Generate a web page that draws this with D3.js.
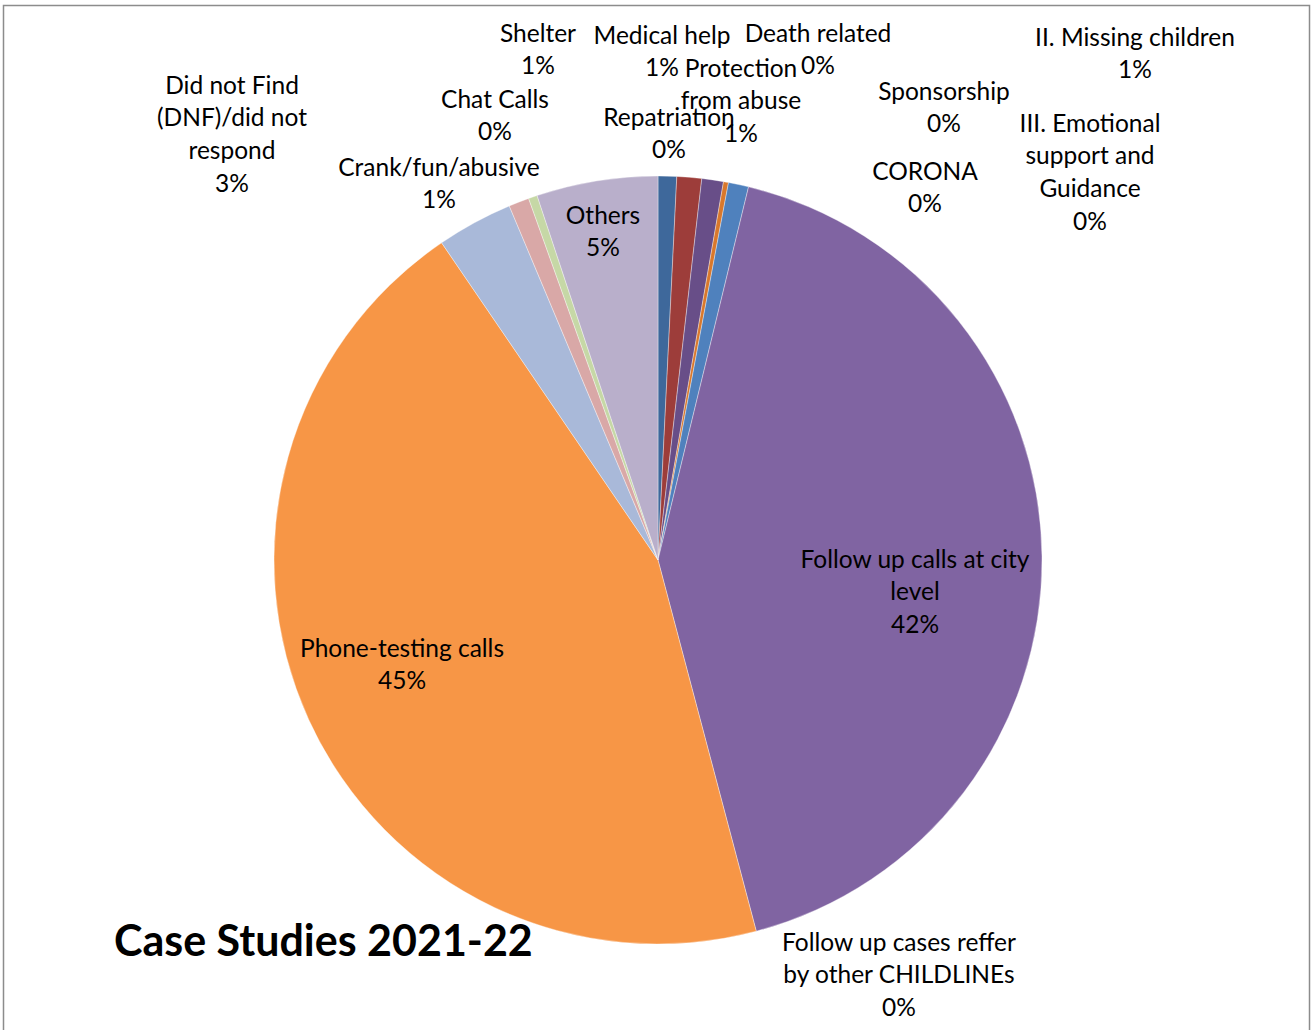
<!DOCTYPE html>
<html>
<head>
<meta charset="utf-8">
<script src="https://cdn.jsdelivr.net/npm/d3@7"></script>
<style>
  body { margin: 0; background: #fff; }
  text { font-family: Lato, "Open Sans", sans-serif; }
</style>
</head>
<body>
<svg width="1312" height="1030"></svg>
<script>
// slices in clockwise order starting at 12 o'clock (values are % of calls)
const categories = [
  "Shelter", "Medical help", "Protection from abuse", "Repatriation", "Death related",
  "Sponsorship", "CORONA", "II. Missing children", "III. Emotional support and Guidance",
  "Follow up calls at city level", "Follow up cases reffer by other CHILDLINEs",
  "Phone-testing calls", "Did not Find (DNF)/did not respond", "Crank/fun/abusive",
  "Chat Calls", "Others"
];
const values = [0.78, 1.04, 0.91, 0.21, 0, 0, 0, 0.85, 0, 42.1, 0, 44.6, 3.2, 0.86, 0.37, 5.1];
const colors = [
  "#3e689b", "#9d3d3a", "#684e88", "#d9782c", "#c0504d", "#9bbb59", "#4bacc6", "#4f81bd",
  "#f79646", "#8064a2", "#4bacc6", "#f79646", "#a9b9d9", "#d9a8a7", "#c6d8a6", "#b9afcb"
];
// how each label is broken into lines
const labelLines = [
  ["Shelter"], ["Medical help"], ["Protection", "from abuse"], ["Repatriation"], ["Death related"],
  ["Sponsorship"], ["CORONA"], ["II. Missing children"], ["III. Emotional", "support and", "Guidance"],
  ["Follow up calls at city", "level"], ["Follow up cases reffer", "by other CHILDLINEs"],
  ["Phone-testing calls"], ["Did not Find", "(DNF)/did not", "respond"], ["Crank/fun/abusive"],
  ["Chat Calls"], ["Others"]
];
const title = "Case Studies 2021-22";

// label placement (centre x, centre y of first line), excel placed these
const labelPos = {
  "Shelter": [538, 33], "Medical help": [662, 35], "Protection from abuse": [741, 68],
  "Repatriation": [669, 117], "Death related": [818, 33], "Sponsorship": [944, 91],
  "CORONA": [925, 171], "II. Missing children": [1135, 37],
  "III. Emotional support and Guidance": [1090, 123],
  "Follow up calls at city level": [915, 559],
  "Follow up cases reffer by other CHILDLINEs": [899, 942],
  "Phone-testing calls": [402, 648], "Did not Find (DNF)/did not respond": [232, 85],
  "Crank/fun/abusive": [439, 167], "Chat Calls": [495, 99], "Others": [603, 215]
};

const svg = d3.select("svg");
const cx = 658, cy = 560, radius = 384;

// frame like the excel chart area
svg.append("rect")
  .attr("x", 3.5).attr("y", 5.5)
  .attr("width", 1306).attr("height", 1040)
  .attr("fill", "white")
  .attr("stroke", "#8c8c8c")
  .attr("stroke-width", 1.5);

const data = categories.map((name, i) => ({ name, value: values[i], color: colors[i], lines: labelLines[i] }));

const pie = d3.pie().value(d => d.value).sort(null);
const arc = d3.arc().innerRadius(0).outerRadius(radius);
const arcs = pie(data);

const g = svg.append("g").attr("transform", `translate(${cx},${cy})`);

g.selectAll("path")
  .data(arcs.filter(d => d.data.value > 0))
  .enter()
  .append("path")
    .attr("d", arc)
    .attr("fill", d => d.data.color)
    .attr("stroke", "#ffffff")
    .attr("stroke-opacity", 0.6)
    .attr("stroke-width", 0.6);

// labels: name lines then the rounded percent
const lineH = 32.7;
const total = d3.sum(values);
const labels = svg.selectAll(".lbl")
  .data(data)
  .enter()
  .append("text")
    .attr("class", "lbl")
    .attr("text-anchor", "middle")
    .attr("font-size", "24.5px")
    .attr("fill", "#000");

labels.each(function(d) {
  const [x, y] = labelPos[d.name];
  const t = d3.select(this);
  const all = d.lines.concat([Math.round(d.value / total * 100) + "%"]);
  all.forEach((s, i) => {
    t.append("tspan")
      .attr("x", x)
      .attr("y", y + i * lineH)
      .attr("dy", "0.35em")
      .text(s);
  });
});

svg.append("text")
  .attr("x", 114)
  .attr("y", 941)
  .attr("dy", "0.35em")
  .attr("font-size", "43px")
  .attr("font-weight", "bold")
  .attr("fill", "#000")
  .text(title);
</script>
</body>
</html>
